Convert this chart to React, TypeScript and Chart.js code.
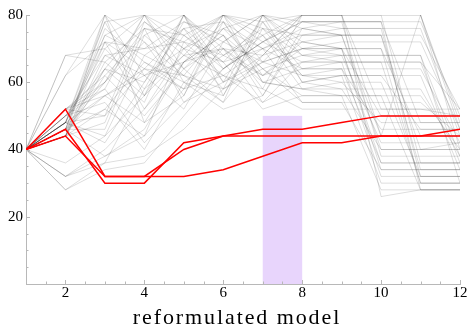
import { useEffect, useRef } from 'react';
import { Chart, registerables } from 'chart.js';

Chart.register(...registerables);

// ---------- data ----------
const steps = [1, 2, 3, 4, 5, 6, 7, 8, 9, 10, 11, 12];

const red1 = [40, 52, 32, 32, 32, 34, 38, 42, 42, 44, 44, 46];
const red2 = [40, 46, 30, 30, 42, 44, 46, 46, 48, 50, 50, 50];
const red3 = [40, 44, 32, 32, 40, 44, 44, 44, 44, 44, 44, 44];
const redSeries = [red1, red2, red3];

const grey01 = [40, 48, 80, 62, 70, 80, 74, 80, 80, 80, 80, 48];
const grey02 = [40, 46, 74, 80, 64, 72, 80, 76, 74, 44, 44, 44];
const grey03 = [40, 44, 66, 56, 80, 68, 62, 72, 70, 70, 30, 30];
const grey04 = [40, 52, 60, 72, 56, 78, 70, 64, 64, 36, 36, 36];
const grey05 = [40, 48, 56, 64, 76, 60, 80, 68, 66, 66, 66, 36];
const grey06 = [40, 62, 80, 48, 66, 74, 58, 80, 80, 52, 52, 52];
const grey07 = [40, 68, 70, 80, 60, 56, 76, 74, 74, 74, 34, 34];
const grey08 = [40, 46, 52, 44, 72, 80, 66, 62, 62, 30, 30, 30];
const grey09 = [40, 44, 48, 76, 54, 64, 72, 78, 78, 78, 78, 50];
const grey10 = [40, 50, 64, 60, 80, 70, 60, 58, 58, 40, 40, 42];
const grey11 = [40, 48, 44, 68, 62, 58, 80, 70, 72, 72, 72, 46];
const grey12 = [40, 32, 40, 52, 70, 76, 64, 56, 56, 56, 28, 28];
const grey13 = [40, 28, 36, 58, 68, 62, 54, 66, 66, 32, 32, 32];
const grey14 = [40, 46, 76, 66, 58, 80, 78, 60, 58, 58, 58, 38];
const grey15 = [40, 52, 58, 80, 74, 66, 70, 54, 54, 54, 54, 44];
const grey16 = [40, 44, 62, 50, 64, 54, 68, 80, 80, 26, 28, 28];
const grey17 = [40, 48, 72, 70, 78, 74, 56, 76, 74, 74, 40, 40];
const grey18 = [40, 50, 54, 40, 60, 68, 74, 62, 64, 64, 64, 42];
const grey19 = [40, 46, 46, 74, 80, 60, 66, 78, 78, 38, 38, 38];
const grey20 = [40, 44, 68, 62, 52, 72, 80, 72, 74, 74, 74, 52];
const grey21 = [40, 32, 38, 46, 66, 78, 62, 70, 70, 34, 34, 34];
const grey22 = [40, 48, 78, 56, 74, 64, 72, 66, 66, 66, 30, 30];
const grey23 = [40, 52, 50, 78, 68, 80, 60, 58, 56, 56, 56, 40];
const grey24 = [40, 46, 64, 54, 80, 56, 78, 64, 64, 46, 46, 46];
const grey25 = [40, 62, 72, 64, 58, 70, 68, 80, 80, 80, 36, 36];
const grey26 = [40, 48, 42, 60, 76, 66, 52, 56, 56, 28, 28, 28];
const grey27 = [40, 44, 80, 72, 62, 76, 70, 74, 76, 76, 76, 44];
const grey28 = [40, 50, 60, 80, 70, 58, 64, 68, 68, 42, 42, 42];
const grey29 = [40, 46, 56, 48, 56, 80, 76, 62, 60, 60, 32, 32];
const grey30 = [40, 68, 66, 76, 72, 62, 58, 52, 52, 52, 52, 50];
const grey31 = [40, 28, 34, 36, 50, 64, 72, 78, 78, 78, 48, 48];
const grey32 = [40, 48, 70, 58, 78, 72, 66, 70, 70, 36, 36, 36];
const grey33 = [40, 52, 62, 74, 64, 76, 80, 60, 62, 62, 62, 34];
const grey34 = [40, 44, 52, 66, 60, 52, 56, 74, 74, 40, 40, 40];
const grey35 = [40, 36, 44, 56, 68, 70, 62, 66, 68, 68, 68, 30];
const grey36 = [40, 46, 78, 80, 80, 64, 74, 58, 60, 48, 48, 48];
const grey37 = [40, 50, 58, 42, 54, 60, 68, 72, 70, 70, 44, 44];
const grey38 = [40, 48, 74, 68, 76, 78, 60, 64, 66, 66, 66, 52];
const grey39 = [40, 44, 64, 78, 70, 66, 78, 80, 80, 80, 80, 40];
const grey40 = [40, 52, 56, 62, 66, 74, 64, 54, 54, 34, 34, 34];
const grey41 = [40, 46, 38, 44, 58, 62, 70, 76, 78, 78, 28, 28];
const grey42 = [40, 50, 68, 70, 72, 68, 76, 68, 70, 50, 50, 50];
const grey43 = [40, 48, 50, 64, 62, 54, 80, 78, 76, 76, 32, 32];
const grey44 = [40, 32, 36, 38, 46, 58, 66, 70, 68, 68, 68, 38];
const grey45 = [40, 46, 60, 76, 74, 80, 72, 80, 80, 44, 80, 46];
const grey46 = [40, 44, 72, 52, 66, 70, 54, 60, 62, 62, 46, 46];

const greySeries = [
  grey01, grey02, grey03, grey04, grey05, grey06, grey07, grey08, grey09, grey10,
  grey11, grey12, grey13, grey14, grey15, grey16, grey17, grey18, grey19, grey20,
  grey21, grey22, grey23, grey24, grey25, grey26, grey27, grey28, grey29, grey30,
  grey31, grey32, grey33, grey34, grey35, grey36, grey37, grey38, grey39, grey40,
  grey41, grey42, grey43, grey44, grey45, grey46,
];

const xTickValues = [2, 4, 6, 8, 10, 12];
const yTickValues = [20, 40, 60, 80];
const bandX = [7, 8];
const bandY = [0, 50];
const axisTitle = 'reformulated model';

const FONT = '"Liberation Serif", "Times New Roman", serif';
const AXIS_COLOR = '#b8b8b8';

const bandPlugin = {
  id: 'band',
  beforeDatasetsDraw(chart: any) {
    const { ctx, scales } = chart;
    const x0 = scales.x.getPixelForValue(bandX[0]);
    const x1 = scales.x.getPixelForValue(bandX[1]);
    const y0 = scales.y.getPixelForValue(bandY[1]);
    const y1 = scales.y.getPixelForValue(bandY[0]);
    ctx.save();
    ctx.fillStyle = 'rgb(232, 213, 252)';
    ctx.fillRect(x0, y0, x1 - x0, y1 - y0);
    ctx.restore();
  },
};

const ticksPlugin = {
  id: 'inwardTicks',
  afterDraw(chart: any) {
    const { ctx, scales } = chart;
    const xs = scales.x;
    const ys = scales.y;
    const left = xs.left;
    const bottom = ys.bottom;
    ctx.save();
    ctx.strokeStyle = AXIS_COLOR;
    ctx.lineWidth = 1;
    ctx.beginPath();
    for (let v = 5; v <= 80; v += 5) {
      const py = Math.round(ys.getPixelForValue(v)) + 0.5;
      const len = v % 20 === 0 ? 4 : 2.5;
      ctx.moveTo(left, py);
      ctx.lineTo(left + len, py);
    }
    for (let v = 1.5; v <= 12; v += 0.5) {
      const px = Math.round(xs.getPixelForValue(v)) + 0.5;
      const len = v % 2 === 0 ? 4 : 2.5;
      ctx.moveTo(px, bottom);
      ctx.lineTo(px, bottom - len);
    }
    ctx.stroke();
    // axis title
    ctx.fillStyle = '#000';
    ctx.font = '22px ' + FONT;
    ctx.textAlign = 'center';
    ctx.textBaseline = 'alphabetic';
    (ctx as any).letterSpacing = '1.9px';
    ctx.fillText(axisTitle, chart.width / 2 + 1, 324);
    ctx.restore();
  },
};

export default function App() {
  const ref = useRef<HTMLCanvasElement | null>(null);

  useEffect(() => {
    if (!ref.current) return;
    const datasets: any[] = [];
    redSeries.forEach((s) => {
      datasets.push({
        data: s.map((v, i) => ({ x: steps[i], y: v })),
        borderColor: 'rgb(255, 0, 0)',
        borderWidth: 1.5,
        pointRadius: 0,
        tension: 0,
        fill: false,
      });
    });
    greySeries.forEach((s) => {
      datasets.push({
        data: s.map((v, i) => ({ x: steps[i], y: v })),
        borderColor: 'rgba(0, 0, 0, 0.17)',
        borderWidth: 0.8,
        pointRadius: 0,
        tension: 0,
        fill: false,
      });
    });

    const chart = new Chart(ref.current, {
      type: 'line',
      data: { datasets },
      options: {
        animation: false,
        responsive: false,
        events: [],
        layout: { padding: { left: 5, right: 12, top: 15, bottom: 25 } },
        plugins: { legend: { display: false }, tooltip: { enabled: false }, title: { display: false } },
        scales: {
          x: {
            type: 'linear',
            min: 1,
            max: 12,
            afterBuildTicks: (s: any) => {
              s.ticks = xTickValues.map((v) => ({ value: v }));
            },
            ticks: {
              color: '#000',
              font: { family: FONT, size: 15 },
              padding: 0,
              maxRotation: 0,
              autoSkip: false,
            },
            grid: { display: false, drawTicks: false },
            border: { display: true, color: AXIS_COLOR, width: 1 },
          },
          y: {
            type: 'linear',
            min: 0,
            max: 80,
            afterBuildTicks: (s: any) => {
              s.ticks = yTickValues.map((v) => ({ value: v }));
            },
            ticks: {
              color: '#000',
              font: { family: FONT, size: 15 },
              padding: 3,
              autoSkip: false,
            },
            grid: { display: false, drawTicks: false },
            border: { display: true, color: AXIS_COLOR, width: 1 },
          },
        },
      },
      plugins: [bandPlugin, ticksPlugin],
    });
    return () => chart.destroy();
  }, []);

  return (
    <div style={{ position: 'fixed', left: 0, top: 0, width: 472, height: 327, background: '#fff' }}>
      <canvas ref={ref} width={472} height={327} />
    </div>
  );
}
